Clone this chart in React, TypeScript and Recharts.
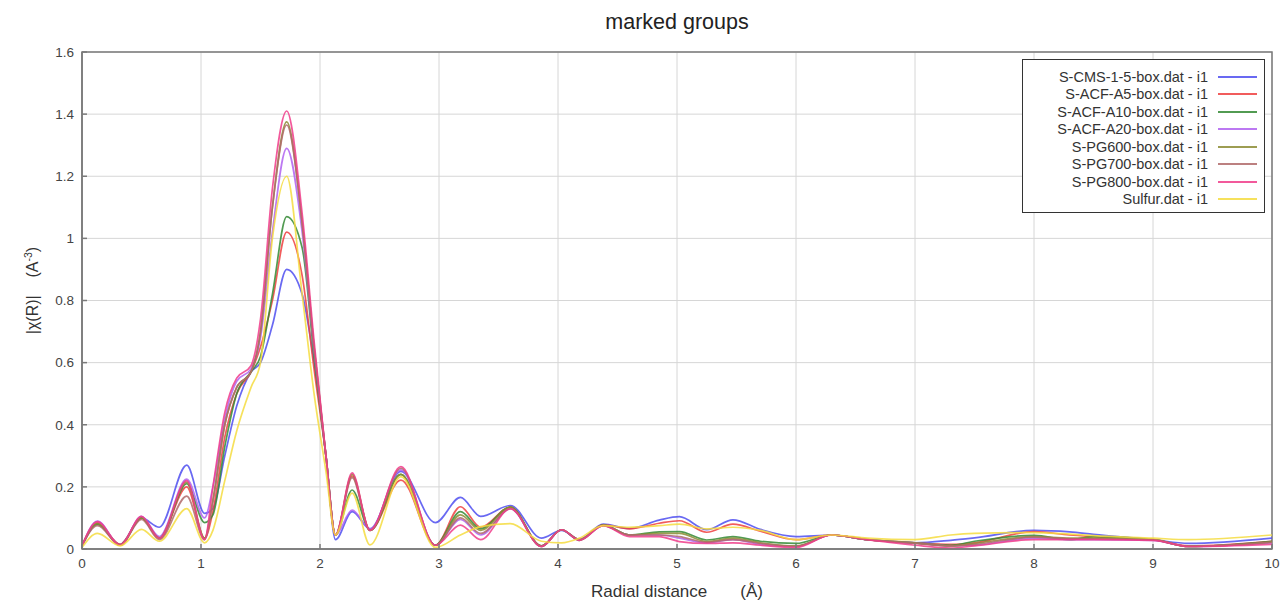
import {
  CartesianGrid,
  Line,
  LineChart,
  ReferenceArea,
  XAxis,
  YAxis,
} from 'recharts'

// radial distance knots (Å)
const radius = [
  0, 0.13, 0.32, 0.5, 0.65, 0.88, 1.03, 1.1, 1.2, 1.3, 1.42, 1.5, 1.6, 1.72, 1.85, 1.95,
  2.05, 2.13, 2.27, 2.42, 2.68, 2.97, 3.18, 3.35, 3.6, 3.86, 4.03, 4.18, 4.38, 4.6, 4.85,
  5.02, 5.25, 5.47, 5.7, 6.0, 6.3, 6.6, 7.0, 7.3, 7.5, 8.0, 8.3, 8.5, 9.0, 9.3, 10,
]

const cms15 = [
  0.01, 0.08, 0.015, 0.1, 0.07, 0.27, 0.115, 0.13, 0.3, 0.46, 0.57, 0.6, 0.72, 0.9, 0.82, 0.6,
  0.3, 0.03, 0.12, 0.065, 0.25, 0.085, 0.166, 0.105, 0.14, 0.035, 0.06, 0.03, 0.08, 0.066, 0.093,
  0.104, 0.062, 0.094, 0.063, 0.04, 0.045, 0.03, 0.02, 0.028, 0.036, 0.06, 0.055, 0.047, 0.03, 0.018, 0.035,
]
const acfA5 = [
  0.01, 0.085, 0.015, 0.1, 0.035, 0.2, 0.035, 0.12, 0.36, 0.5, 0.57, 0.65, 0.8, 1.02, 0.88, 0.58,
  0.3, 0.045, 0.235, 0.06, 0.222, 0.012, 0.136, 0.07, 0.135, 0.01, 0.062, 0.03, 0.078, 0.065, 0.083,
  0.091, 0.054, 0.08, 0.057, 0.03, 0.045, 0.03, 0.02, 0.015, 0.02, 0.056, 0.045, 0.04, 0.03, 0.01, 0.025,
]
const acfA10 = [
  0.01, 0.08, 0.012, 0.1, 0.035, 0.21, 0.085, 0.11, 0.33, 0.5, 0.57, 0.62, 0.82, 1.07, 0.97, 0.62,
  0.3, 0.045, 0.19, 0.06, 0.24, 0.012, 0.12, 0.065, 0.135, 0.01, 0.062, 0.028, 0.077, 0.045, 0.055,
  0.056, 0.029, 0.04, 0.025, 0.018, 0.045, 0.03, 0.02, 0.012, 0.025, 0.044, 0.03, 0.04, 0.03, 0.008, 0.025,
]
const acfA20 = [
  0.01, 0.09, 0.012, 0.105, 0.04, 0.225, 0.1, 0.2, 0.42, 0.54, 0.58, 0.68, 1.02, 1.29, 1.02, 0.64,
  0.3, 0.045, 0.125, 0.065, 0.255, 0.012, 0.095, 0.045, 0.13, 0.008, 0.062, 0.03, 0.075, 0.045, 0.045,
  0.035, 0.02, 0.03, 0.015, 0.008, 0.045, 0.03, 0.02, 0.01, 0.012, 0.035, 0.03, 0.03, 0.028, 0.008, 0.02,
]
const pg600 = [
  0.01, 0.082, 0.012, 0.1, 0.035, 0.215, 0.035, 0.16, 0.4, 0.52, 0.57, 0.7, 1.1, 1.375, 1.05, 0.65,
  0.3, 0.045, 0.24, 0.06, 0.24, 0.012, 0.11, 0.06, 0.135, 0.008, 0.062, 0.03, 0.077, 0.045, 0.05,
  0.05, 0.024, 0.035, 0.02, 0.01, 0.045, 0.03, 0.02, 0.01, 0.018, 0.04, 0.035, 0.035, 0.03, 0.008, 0.022,
]
const pg700 = [
  0.01, 0.075, 0.012, 0.095, 0.03, 0.17, 0.03, 0.15, 0.4, 0.52, 0.57, 0.7, 1.1, 1.365, 1.05, 0.65,
  0.3, 0.045, 0.23, 0.06, 0.26, 0.012, 0.1, 0.05, 0.13, 0.008, 0.062, 0.03, 0.075, 0.045, 0.045,
  0.04, 0.022, 0.03, 0.018, 0.008, 0.045, 0.03, 0.018, 0.01, 0.015, 0.038, 0.033, 0.033, 0.03, 0.008, 0.022,
]
const pg800 = [
  0.01, 0.088, 0.012, 0.105, 0.035, 0.22, 0.03, 0.2, 0.44, 0.55, 0.59, 0.74, 1.16, 1.41, 1.08, 0.67,
  0.3, 0.045, 0.245, 0.06, 0.265, 0.012, 0.077, 0.03, 0.13, 0.008, 0.062, 0.028, 0.075, 0.04, 0.04,
  0.024, 0.018, 0.02, 0.012, 0.005, 0.045, 0.03, 0.012, 0.003, 0.01, 0.03, 0.03, 0.03, 0.028, 0.008, 0.015,
]
const sulfur = [
  0.005, 0.05, 0.01, 0.063, 0.025, 0.13, 0.02, 0.06, 0.22, 0.38, 0.52, 0.6, 1.0, 1.2, 0.82, 0.5,
  0.25, 0.045, 0.18, 0.013, 0.233, 0.005, 0.045, 0.072, 0.082, 0.025, 0.02, 0.035, 0.075, 0.07, 0.075,
  0.08, 0.065, 0.07, 0.06, 0.03, 0.045, 0.035, 0.03, 0.045, 0.05, 0.053, 0.048, 0.043, 0.035, 0.03, 0.045,
]

const xTicks = [0, 1, 2, 3, 4, 5, 6, 7, 8, 9, 10]
const yTicks = [0, 0.2, 0.4, 0.6, 0.8, 1, 1.2, 1.4, 1.6]

const series = [
  { key: 'cms15', name: 'S-CMS-1-5-box.dat - i1', color: '#4f4ff0', values: cms15 },
  { key: 'acfA5', name: 'S-ACF-A5-box.dat - i1', color: '#ee4040', values: acfA5 },
  { key: 'acfA10', name: 'S-ACF-A10-box.dat - i1', color: '#348a34', values: acfA10 },
  { key: 'acfA20', name: 'S-ACF-A20-box.dat - i1', color: '#b062f0', values: acfA20 },
  { key: 'pg600', name: 'S-PG600-box.dat - i1', color: '#8c8c34', values: pg600 },
  { key: 'pg700', name: 'S-PG700-box.dat - i1', color: '#b06a6a', values: pg700 },
  { key: 'pg800', name: 'S-PG800-box.dat - i1', color: '#f03c8a', values: pg800 },
  { key: 'sulfur', name: 'Sulfur.dat - i1', color: '#f5dc40', values: sulfur },
]

const data = radius.map((r, i) => {
  const row: Record<string, number> = { r }
  for (const s of series) row[s.key] = s.values[i]
  return row
})

const font = 'Arial, "Liberation Sans", sans-serif'
const axisColor = '#7a7a7a'
const tickStyle = { fill: '#444', fontSize: 13.5, fontFamily: font }

// legend drawn as a plain box so it does not eat into the plot width
function LegendBox() {
  return (
    <div
      style={{
        position: 'absolute',
        left: 1022,
        top: 59,
        width: 243,
        height: 154,
        border: '1px solid #333',
        background: '#fff',
        boxSizing: 'border-box',
        paddingTop: 8,
        fontFamily: font,
        fontSize: 14.5,
        color: '#333',
      }}
    >
      {series.map((s) => (
        <div
          key={s.key}
          style={{ display: 'flex', alignItems: 'center', justifyContent: 'flex-end', height: 17.5 }}
        >
          <span style={{ marginRight: 10, whiteSpace: 'nowrap' }}>{s.name}</span>
          <span
            style={{ width: 39, height: 0, borderTop: `2px solid ${s.color}`, marginRight: 7, opacity: 0.85 }}
          />
        </div>
      ))}
    </div>
  )
}

function YLabel(props: any) {
  const { viewBox } = props
  const cx = 38
  const cy = viewBox ? viewBox.y + viewBox.height / 2 - 10 : 290
  return (
    <text
      x={cx}
      y={cy}
      transform={`rotate(-90 ${cx} ${cy})`}
      textAnchor="middle"
      fontFamily={font}
      fontSize={16}
      fill="#333"
    >
      |χ(R)|{'\u00a0\u00a0\u00a0\u00a0'}(A
      <tspan dy={-6} fontSize={10.5}>-3</tspan>
      <tspan dy={6}>)</tspan>
    </text>
  )
}

export default function App() {
  return (
    <div style={{ width: 1284, height: 603, position: 'relative', background: '#fff' }}>
      <style>{'body{margin:0}'}</style>
      <div
        style={{
          position: 'absolute',
          top: 10,
          left: 0,
          width: 1354,
          textAlign: 'center',
          fontFamily: font,
          fontSize: 21.5,
          color: '#222',
        }}
      >
        marked groups
      </div>
      <LineChart
        width={1284}
        height={603}
        data={data}
        margin={{ top: 52, right: 12, left: 42, bottom: 24 }}
      >
        <CartesianGrid stroke="#d6d6d6" strokeWidth={1} />
        <XAxis
          dataKey="r"
          type="number"
          domain={[0, 10]}
          ticks={xTicks}
          allowDataOverflow
          height={30}
          tick={tickStyle}
          tickSize={-5}
          tickMargin={14}
          stroke={axisColor}
          strokeWidth={1.5}
          label={{
            value: 'Radial distance\u00a0\u00a0\u00a0\u00a0\u00a0\u00a0\u00a0(Å)',
            position: 'insideBottom',
            offset: -18,
            style: { fill: '#333', fontSize: 17, fontFamily: font },
          }}
        />
        <XAxis
          xAxisId="top"
          orientation="top"
          dataKey="r"
          type="number"
          domain={[0, 10]}
          ticks={xTicks}
          height={0}
          tick={false}
          tickSize={-5}
          stroke={axisColor}
          strokeWidth={1.5}
        />
        <YAxis
          type="number"
          domain={[0, 1.6]}
          ticks={yTicks}
          allowDataOverflow
          width={40}
          tick={tickStyle}
          tickSize={-5}
          tickMargin={13}
          tickFormatter={(v: number) => String(+v.toFixed(1))}
          stroke={axisColor}
          strokeWidth={1.5}
          label={<YLabel />}
        />
        <YAxis
          yAxisId="right"
          orientation="right"
          type="number"
          domain={[0, 1.6]}
          ticks={yTicks}
          width={0}
          tick={false}
          tickSize={-5}
          stroke={axisColor}
          strokeWidth={1.5}
        />
        <ReferenceArea x1={0} x2={10} y1={0} y2={1.6} fill="none" stroke={axisColor} strokeWidth={1.5} />
        {series.map((s) => (
          <Line
            key={s.key}
            type="monotone"
            dataKey={s.key}
            name={s.name}
            stroke={s.color}
            strokeWidth={1.7}
            strokeOpacity={0.85}
            dot={false}
            activeDot={false}
            isAnimationActive={false}
          />
        ))}
      </LineChart>
      <LegendBox />
    </div>
  )
}
